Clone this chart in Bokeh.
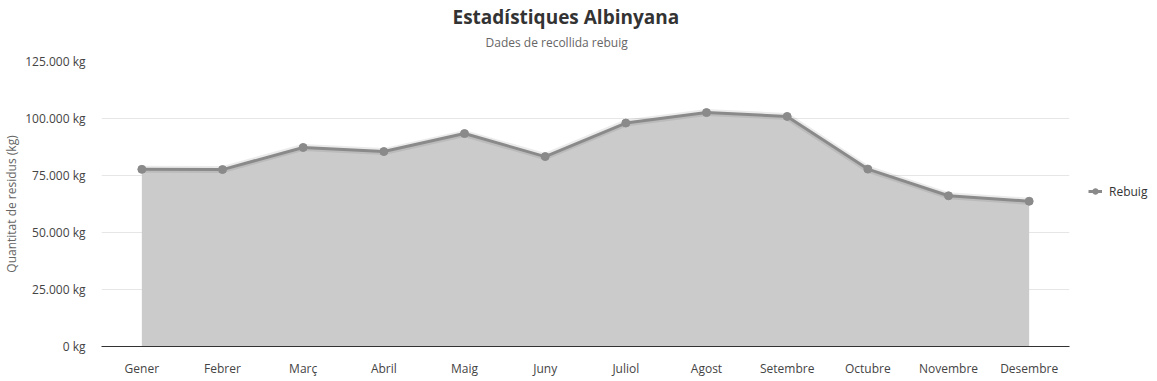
from bokeh.plotting import figure
from bokeh.models import Range1d, FactorRange, CustomJSTickFormatter, Title, Legend, LegendItem, FixedTicker
from bokeh.embed import file_html
from bokeh.resources import INLINE

months = ["Gener", "Febrer", "Març", "Abril", "Maig", "Juny", "Juliol",
          "Agost", "Setembre", "Octubre", "Novembre", "Desembre"]
rebuig = [77700, 77600, 87300, 85500, 93400, 83300, 98000,
          102600, 100900, 77800, 66100, 63700]
y_ticks = [0, 25000, 50000, 75000, 100000, 125000]

FONT = "Open Sans"

p = figure(frame_width=968, frame_height=285, x_range=FactorRange(*months, range_padding=0),
           y_range=Range1d(0, 125000), output_backend="svg", toolbar_location=None,
           min_border_left=101, min_border_right=88, min_border_top=61, min_border_bottom=35)
p.outline_line_color = None
p.background_fill_color = "white"

p.title = Title(text="Estadístiques Albinyana", align="left", text_font=FONT,
                text_font_size="19px", text_font_style="bold", text_color="#333333",
                offset=351, standoff=0)
sub = Title(text="Dades de recollida rebuig", align="left", text_font=FONT,
            text_font_size="12px", text_font_style="normal", text_color="#666666",
            offset=384, standoff=4, padding=dict(top=0, bottom=9, left=0, right=0))
p.add_layout(sub, "above")

p.varea(x=months, y1=0, y2=rebuig, fill_color="#cbcbcb", fill_alpha=1.0)
p.line(x=months, y=rebuig, line_color="#000000", line_width=7, line_alpha=0.08)
ln = p.line(x=months, y=rebuig, line_color="#8a8a8a", line_width=3)
pts = p.scatter(x=months, y=rebuig, size=8, fill_color="#8a8a8a", line_color="#8a8a8a")

p.yaxis.ticker = FixedTicker(ticks=y_ticks)
p.yaxis.formatter = CustomJSTickFormatter(code="""
return tick.toString().replace(/\\B(?=(\\d{3})+(?!\\d))/g, '.') + ' kg';
""")
p.yaxis.axis_label = "Quantitat de residus (kg)"
p.yaxis.axis_label_text_font = FONT
p.yaxis.axis_label_text_font_style = "normal"
p.yaxis.axis_label_text_font_size = "12px"
p.yaxis.axis_label_text_color = "#666666"
p.yaxis.axis_label_standoff = 2
p.yaxis.axis_line_color = None
p.yaxis.major_tick_line_color = None
p.yaxis.minor_tick_line_color = None
p.yaxis.major_tick_out = 0
p.yaxis.major_tick_in = 0
p.yaxis.minor_tick_out = 0
p.yaxis.major_label_text_font = FONT
p.yaxis.major_label_text_font_size = "12px"
p.yaxis.major_label_text_color = "#444444"
p.yaxis.major_label_standoff = 16

p.xaxis.axis_line_color = "#333333"
p.xaxis.major_tick_line_color = None
p.xaxis.minor_tick_line_color = None
p.xaxis.major_tick_out = 0
p.xaxis.major_tick_in = 0
p.xaxis.minor_tick_out = 0
p.xaxis.major_label_text_font = FONT
p.xaxis.major_label_text_font_size = "12px"
p.xaxis.major_label_text_color = "#444444"
p.xaxis.major_label_standoff = 13

p.xgrid.grid_line_color = None
p.ygrid.grid_line_color = "#e6e6e6"

legend = Legend(items=[LegendItem(label="Rebuig", renderers=[ln, pts])],
                location=(19, 145), border_line_color=None, background_fill_alpha=0,
                label_text_font=FONT, label_text_font_size="12px", label_text_color="#333333",
                glyph_width=14, label_standoff=7, padding=0, margin=0)
p.add_layout(legend, "right")

open("out.html", "w").write(file_html(p, INLINE))
